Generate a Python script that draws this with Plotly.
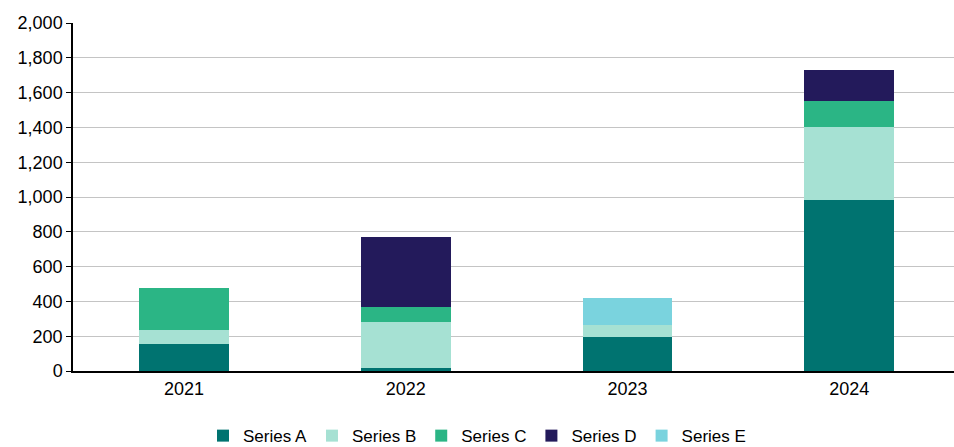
import plotly.graph_objects as go

years = ["2021", "2022", "2023", "2024"]
series_a = [155, 20, 197, 985]
series_b = [81, 264, 68, 420]
series_c = [241, 84, 0, 147]
series_d = [0, 404, 0, 177]
series_e = [0, 0, 155, 0]
n_labels = ["n=10", "n=7", "n=9", "n=14"]
n_label_y = [667, 937, 581, 1915]

names = ["Series A", "Series B", "Series C", "Series D", "Series E"]
colors = ["#007370", "#A6E1D3", "#2BB585", "#231A5B", "#7AD3DE"]
data = [series_a, series_b, series_c, series_d, series_e]

FS = 18

fig = go.Figure()
for name, vals, col in zip(names, data, colors):
    fig.add_trace(go.Bar(x=years, y=vals, name=name, marker=dict(color=col, line=dict(width=0)),
                         width=0.405))

for yr, lab, ly in zip(years, n_labels, n_label_y):
    fig.add_annotation(x=yr, y=ly, text=lab, showarrow=False,
                       font=dict(size=FS, color="#000000"))

fig.update_layout(
    barmode="stack",
    width=954, height=447,
    margin=dict(l=73, r=0, t=23, b=76, autoexpand=False),
    plot_bgcolor="white", paper_bgcolor="white",
    font=dict(family="Liberation Sans, Arial, sans-serif", size=FS, color="#000000"),
    legend=dict(orientation="h", x=0.5, xref="container", xanchor="center",
                y=-0.187, yref="paper", yanchor="middle",
                font=dict(size=17), traceorder="normal", itemwidth=30, tracegroupgap=0,
                itemclick=False),
)
fig.update_xaxes(range=[-0.5, 3.472], showline=True, linecolor="#000000", linewidth=2,
                 ticks="", showgrid=False, tickfont=dict(size=FS), automargin=False)
fig.update_yaxes(range=[0, 2000], dtick=200, tickformat=",", showline=True, linecolor="#000000",
                 linewidth=1.5, ticks="outside", ticklen=5, tickcolor="#000000",
                 showgrid=True, gridcolor="#C4C4C4", gridwidth=1, zeroline=False,
                 tickfont=dict(size=FS), automargin=False)

fig.write_html("out.html")
